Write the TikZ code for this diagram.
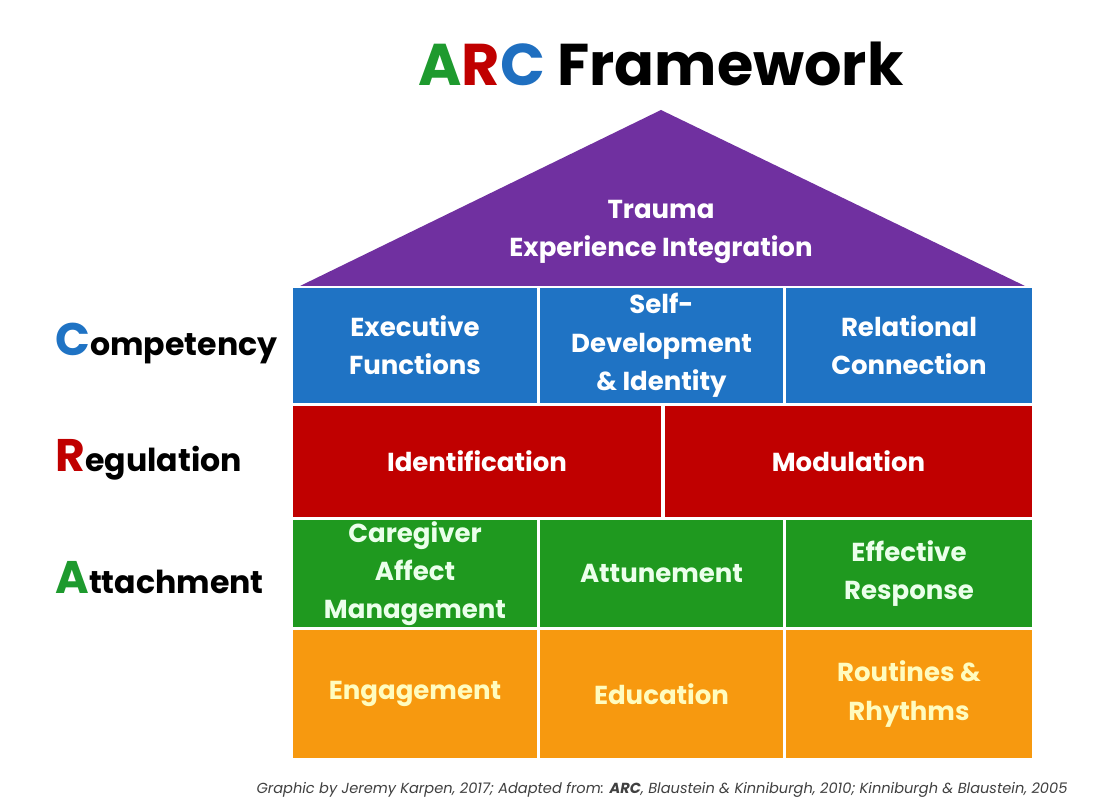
\documentclass[tikz,border=0pt]{standalone}
\usepackage{fontspec}
\setmainfont{Poppins}
\definecolor{arcpurple}{HTML}{7030A0}
\definecolor{arcblue}{HTML}{1F73C4}
\definecolor{arcred}{HTML}{C00000}
\definecolor{arcgreen}{HTML}{1F991F}
\definecolor{arcorange}{HTML}{F7990F}
\definecolor{arctitlegreen}{HTML}{1E9A2E}
\definecolor{arctitleblue}{HTML}{1F6FC0}

\begin{document}
\begin{tikzpicture}[x=0.02cm, y=-0.02cm, cell/.style 2 args={fill=#1, text=#2, align=center, inner sep=0pt, font=\bfseries\fontsize{14.8}{21.8}\selectfont}, side/.style={anchor=west, inner sep=0pt, font=\bfseries\fontsize{18}{20}\selectfont}]
\useasboundingbox[fill=white] (0,0) rectangle (1107,810);
\node[font=\bfseries\fontsize{33.5}{36}\selectfont](title) at (661,64){\textcolor{arctitlegreen}{A}\textcolor{arcred}{R}\textcolor{arctitleblue}{C} Framework};
\fill[arcpurple] (300,286) -- (661,110) -- (1025,286) -- cycle;
\node[cell={arcpurple}{white}](roof) at (661,232){Trauma\\Experience Integration};
\node[cell={arcblue}{white}, minimum width=4.88cm, minimum height=2.3cm](exec) at (415,345.5){Executive\\Functions};
\node[cell={arcblue}{white}, minimum width=4.86cm, minimum height=2.3cm](self) at (661.5,345.5){Self-\\Development\\\& Identity};
\node[cell={arcblue}{white}, minimum width=4.92cm, minimum height=2.3cm](rel) at (909,345.5){Relational\\Connection};
\node[cell={arcred}{white}, minimum width=7.36cm, minimum height=2.22cm](ident) at (477,461.5){Identification};
\node[cell={arcred}{white}, minimum width=7.34cm, minimum height=2.22cm](modul) at (848.5,461.5){Modulation};
\node[cell={arcgreen}{green!8}, minimum width=4.88cm, minimum height=2.14cm](care) at (415,573.5){Caregiver\\Affect\\Management};
\node[cell={arcgreen}{green!8}, minimum width=4.86cm, minimum height=2.14cm](attun) at (661.5,573.5){Attunement};
\node[cell={arcgreen}{green!8}, minimum width=4.92cm, minimum height=2.14cm](resp) at (909,573.5){Effective\\Response};
\node[cell={arcorange}{yellow!25}, minimum width=4.88cm, minimum height=2.56cm](engage) at (415,694){Engagement};
\node[cell={arcorange}{yellow!25}, minimum width=4.86cm, minimum height=2.56cm](educ) at (661.5,694){Education};
\node[cell={arcorange}{yellow!25}, minimum width=4.92cm, minimum height=2.56cm](rout) at (909,694){Routines \&\\Rhythms};
\node[side](comp) at (55,343){\textcolor{arcblue}{\fontsize{26}{26}\selectfont C}ompetency};
\node[side](regul) at (55,460){\textcolor{arcred}{\fontsize{26}{26}\selectfont R}egulation};
\node[side](attach) at (55,578){\textcolor{arctitlegreen}{\fontsize{26}{26}\selectfont A}ttachment};
\node[font=\itshape\fontsize{8.3}{10}\selectfont, text=black!75](credit) at (662,790){Graphic by Jeremy Karpen, 2017; Adapted from: \textbf{ARC}, Blaustein \& Kinniburgh, 2010; Kinniburgh \& Blaustein, 2005};
\end{tikzpicture}
\end{document}
